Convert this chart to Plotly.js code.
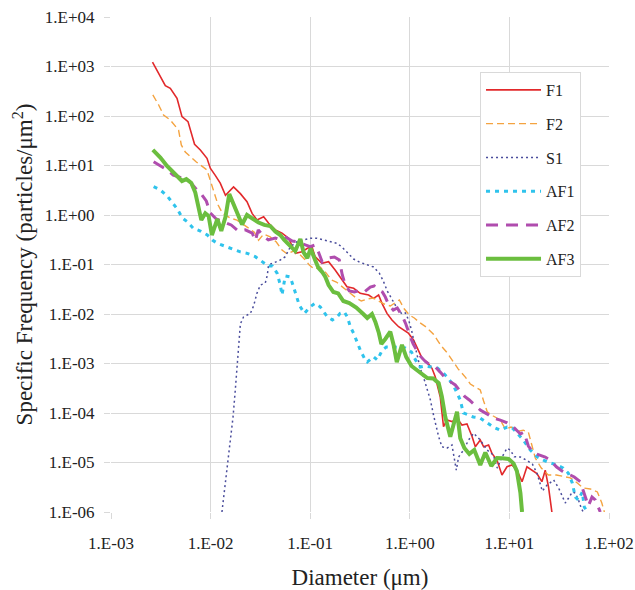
<!DOCTYPE html>
<html>
<head>
<meta charset="utf-8">
<script src="https://cdn.plot.ly/plotly-3.0.1.min.js"></script>
<style>html,body{margin:0;padding:0;background:#fff;}#chart{width:635px;height:590px;}</style>
</head>
<body>
<div id="chart"></div>
<script>
// Tick positions and labels
const xTickVals = [1e-3, 1e-2, 1e-1, 1e0, 1e1, 1e2];
const xTickText = ["1.E-03", "1.E-02", "1.E-01", "1.E+00", "1.E+01", "1.E+02"];
const yTickVals = [1e-6, 1e-5, 1e-4, 1e-3, 1e-2, 1e-1, 1e0, 1e1, 1e2, 1e3, 1e4];
const yTickText = ["1.E-06", "1.E-05", "1.E-04", "1.E-03", "1.E-02", "1.E-01", "1.E+00", "1.E+01", "1.E+02", "1.E+03", "1.E+04"];

// Series names
const seriesNames = ["F1", "F2", "S1", "AF1", "AF2", "AF3"];

// F1
const f1X = [2.61e-3,3.51e-3,3.94e-3,4.6e-3,5.16e-3,5.93e-3,6.9e-3,7.89e-3,9.2e-3,9.93e-3,
  1.11e-2,1.25e-2,1.41e-2,1.70e-2,1.99e-2,2.32e-2,2.61e-2,2.92e-2,3.41e-2,3.83e-2,
  4.47e-2,5.21e-2,6.07e-2,7.1e-2,8.28e-2,9.29e-2,0.104,0.112,0.131,0.153,
  0.178,0.208,0.234,0.273,0.318,0.386,0.433,0.486,0.526,0.59,
  0.662,0.772,0.861,0.966,1.09,1.18,1.33,1.49,1.67,1.80,
  2.02,2.18,2.36,2.65,2.98,3.34,3.75,4.21,4.55,5.1,
  5.51,6.18,6.68,7.5,8.42,9.46,10.6,11.9,13.4,15.0,
  16.8,18.9,21.2,22.9,24.7,26.7];
const f1Y = [1220,409,363,228,97,77,26.8,20.6,14,8.8,
  6.4,4.4,2.5,3.7,2.7,1.86,1.08,0.79,0.92,0.68,
  0.50,0.43,0.34,0.168,0.18,0.21,0.23,0.144,0.106,0.114,
  0.0775,0.0486,0.0356,0.033,0.0262,0.0242,0.0207,0.0242,0.0164,0.0103,
  0.00757,0.00553,0.00475,0.00413,0.00298,0.00218,0.00127,0.00107,8.0e-4,5.4e-4,
  2.13e-4,5.3e-5,7.2e-5,6.7e-5,7.8e-5,5.7e-5,6.0e-5,3.4e-5,2.08e-5,2.85e-5,
  2.08e-5,2.26e-5,1.53e-5,1.12e-5,5.6e-6,8.2e-6,8.9e-6,7.0e-6,4.1e-6,8.2e-6,
  7.0e-6,6.0e-6,4.1e-6,7.0e-6,3.2e-6,1e-6];

// F2
const f2X = [2.63e-3,3.01e-3,3.37e-3,3.94e-3,4.77e-3,5.08e-3,5.57e-3,7.19e-3,9.2e-3,9.93e-3,
  1.07e-2,1.19e-2,1.31e-2,1.58e-2,1.84e-2,2.14e-2,2.44e-2,2.75e-2,3.03e-2,3.41e-2,
  3.97e-2,4.57e-2,5.21e-2,5.89e-2,6.81e-2,7.76e-2,8.73e-2,9.79e-2,0.110,0.126,
  0.145,0.163,0.183,0.205,0.230,0.259,0.290,0.326,0.374,0.430,
  0.483,0.555,0.637,0.715,0.785,0.881,0.989,1.11,1.27,1.46,
  1.72,1.89,2.07,2.38,2.67,3.07,3.61,4.05,4.55,5.1,
  5.51,6.0,6.89,8.1,9.1,10.4,12.3,13.8,15.5,16.9,
  18.2,20.9,24.6,29.6,34.8,40.9,48.1,55.2,64.9,76.4,
  84.7,89.8];
const f2Y = [266,167,105,83,52,26,18.7,11.8,8.1,5.1,
  3.2,1.59,1.10,0.86,0.79,0.63,0.52,0.45,0.31,0.41,
  0.36,0.285,0.196,0.163,0.187,0.163,0.129,0.098,0.081,0.089,
  0.067,0.0486,0.0443,0.0368,0.0305,0.0242,0.021,0.0183,0.0201,0.021,
  0.0183,0.0159,0.0145,0.0167,0.0192,0.0126,0.00955,0.0083,0.0066,0.00546,
  0.00394,0.00298,0.00226,0.00163,0.00118,7.7e-4,5.3e-4,3.85e-4,3.35e-4,2.92e-4,
  1.75e-4,1.05e-4,8.7e-5,7.2e-5,4.75e-5,5.2e-5,4.3e-5,4.5e-5,4.1e-5,2.15e-5,
  1.23e-5,7.7e-6,5.6e-6,5.6e-6,5.2e-6,4.9e-6,3.85e-6,3.05e-6,2.92e-6,2.54e-6,
  1.52e-6,1e-6];

// S1
const s1X = [1.30e-2,1.41e-2,1.48e-2,1.58e-2,1.68e-2,1.77e-2,1.84e-2,1.91e-2,1.99e-2,2.14e-2,
  2.51e-2,2.70e-2,2.92e-2,3.16e-2,3.54e-2,3.71e-2,3.82e-2,4.26e-2,5.01e-2,5.62e-2,
  6.31e-2,7.36e-2,8.59e-2,0.100,0.117,0.136,0.159,0.186,0.208,0.236,
  0.273,0.318,0.374,0.433,0.494,0.542,0.594,0.662,0.743,0.835,
  0.902,0.973,1.04,1.11,1.19,1.27,1.40,1.61,1.73,1.95,
  2.10,2.36,2.65,2.86,2.93,3.09,3.47,3.89,4.37,5.1,
  5.96,6.89,7.56,8.43,9.46,10.2,11.2,12.9,14.8,17.0,
  18.9,20.4,21.4,23.9,27.8,31.2,34.0,36.4,39.3,42.8,
  45.8,49.4,52.6,55.1];
const s1Y = [1e-6,3.85e-6,9.8e-6,2.48e-5,8.3e-5,2.92e-4,8.5e-4,2.6e-3,6.3e-3,8.7e-3,
  1.03e-2,1.45e-2,2.62e-2,3.85e-2,4.23e-2,6.1e-2,9.8e-2,0.107,0.123,0.144,
  0.226,0.289,0.313,0.338,0.338,0.313,0.289,0.268,0.226,0.171,
  0.129,0.110,0.098,0.089,0.067,0.0464,0.0292,0.0201,0.0132,0.0100,
  0.0105,0.00757,0.00475,0.0026,0.00142,8.1e-4,4.64e-4,1.83e-4,9.1e-5,3.3e-5,
  2.08e-5,1.94e-5,2.26e-5,9.8e-6,7.0e-6,1.29e-5,1.79e-5,2.85e-5,3.9e-5,2.85e-5,
  1.79e-5,1.42e-5,7.7e-6,1.29e-5,1.94e-5,1.79e-5,1.31e-5,1.29e-5,1.12e-5,9.3e-6,
  6.1e-6,3.68e-6,2.65e-6,3.51e-6,4.43e-6,3.05e-6,2.01e-6,1.52e-6,1.92e-6,2.54e-6,
  2.42e-6,1.75e-6,1.2e-6,1e-6];

// AF1
const af1X = [2.68e-3,3.13e-3,3.67e-3,4.12e-3,4.63e-3,5.2e-3,5.83e-3,6.7e-3,7.89e-3,9.27e-3,
  1.04e-2,1.17e-2,1.41e-2,1.65e-2,1.99e-2,2.33e-2,2.81e-2,3.3e-2,3.8e-2,4.17e-2,
  4.65e-2,5.01e-2,5.21e-2,5.62e-2,6.31e-2,6.81e-2,7.36e-2,7.76e-2,8.73e-2,0.100,
  0.112,0.126,0.149,0.167,0.187,0.2,0.22,0.236,0.253,0.273,
  0.318,0.357,0.374,0.433,0.472,0.530,0.581,0.715,0.902,1.04,
  1.14,1.27,1.43,1.64,1.89,2.12,2.38,2.73,3.0,3.21,
  3.45,3.87,4.34,5.1,6.0,6.89,8.1,9.5,10.7,12.0,
  13.8,16.2,19.1,21.9,25.7,30.3,34.8,39.0,42.8,45.9,
  49.2,53.9,56.5,60.5];
const af1Y = [3.73,3.2,2.42,1.83,1.32,0.87,0.73,0.54,0.475,0.394,
  0.313,0.268,0.229,0.206,0.18,0.168,0.144,0.114,0.093,0.093,
  0.067,0.0385,0.0242,0.0586,0.0559,0.0351,0.021,0.0152,0.0103,0.014,
  0.0164,0.014,0.0087,0.0076,0.0088,0.0103,0.011,0.0087,0.00553,0.00407,
  0.00187,0.00118,0.00107,0.00137,0.00118,0.00187,0.00215,0.00215,0.00206,0.0017,
  0.00118,8.5e-4,8.9e-4,8.5e-4,8.1e-4,6.7e-4,5.3e-4,3.68e-4,2.54e-4,1.83e-4,
  1.0e-4,9.1e-5,8.3e-5,7.9e-5,6.3e-5,5.2e-5,4.5e-5,5.2e-5,5.0e-5,3.95e-5,
  2.85e-5,1.79e-5,1.29e-5,1.12e-5,9.8e-6,8.9e-6,7.7e-6,6.1e-6,3.85e-6,2.0e-6,
  1.75e-6,2.54e-6,1.26e-6,1e-6];

// AF2
const af2X = [2.68e-3,3.13e-3,3.67e-3,4.22e-3,5.2e-3,5.97e-3,7.02e-3,8.06e-3,9.05e-3,9.93e-3,
  1.14e-2,1.37e-2,1.61e-2,1.9e-2,2.23e-2,2.62e-2,2.81e-2,3.01e-2,3.38e-2,3.8e-2,
  4.46e-2,5.13e-2,5.75e-2,6.61e-2,7.6e-2,8.93e-2,0.100,0.112,0.121,0.132,
  0.152,0.175,0.196,0.210,0.225,0.247,0.277,0.311,0.349,0.401,
  0.44,0.483,0.53,0.568,0.608,0.683,0.749,0.841,0.912,0.989,
  1.08,1.27,1.43,1.61,1.80,2.02,2.27,2.55,2.86,3.14,
  3.53,3.96,4.55,5.1,6.0,6.89,8.1,9.5,11.2,12.9,
  14.0,15.5,17.4,20.4,22.9,25.7,29.6,34.0,39.0,44.8,
  51.5,56.5,62.0,67.5,72.8,81.8];
const af2Y = [11.9,9.8,8.1,6.4,5.6,5.1,3.51,2.66,1.92,1.10,
  0.83,0.72,0.63,0.475,0.50,0.43,0.30,0.50,0.377,0.313,
  0.343,0.313,0.351,0.298,0.285,0.248,0.229,0.248,0.179,0.112,
  0.135,0.142,0.123,0.0614,0.0385,0.0292,0.0278,0.0298,0.0278,0.0351,
  0.0368,0.0305,0.0278,0.022,0.0159,0.012,0.0132,0.0091,0.00628,0.00394,
  0.00248,0.00142,0.0011,9.3e-4,8.6e-4,6.7e-4,5.1e-4,4.3e-4,3.68e-4,2.92e-4,
  2.2e-4,1.83e-4,1.38e-4,1.15e-4,9.5e-5,7.9e-5,7.2e-5,6.3e-5,5.0e-5,3.77e-5,
  4.1e-5,2.15e-5,1.56e-5,1.42e-5,1.29e-5,1.12e-5,8.2e-6,6.7e-6,5.9e-6,5.1e-6,
  4.1e-6,2.42e-6,1.32e-6,2.0e-6,1.75e-6,1e-6];

// AF3
const af3X = [2.63e-3,3.13e-3,3.65e-3,4.25e-3,5.16e-3,5.7e-3,6.4e-3,7.02e-3,7.58e-3,8.07e-3,
  8.85e-3,9.55e-3,1.03e-2,1.17e-2,1.28e-2,1.41e-2,1.54e-2,1.70e-2,1.91e-2,2.07e-2,
  2.32e-2,2.68e-2,3.03e-2,3.46e-2,3.97e-2,4.46e-2,5.01e-2,5.49e-2,6.03e-2,6.61e-2,
  7.08e-2,7.96e-2,8.59e-2,9.35e-2,0.101,0.112,0.121,0.132,0.142,0.153,
  0.171,0.191,0.215,0.247,0.290,0.341,0.374,0.417,0.451,0.489,
  0.518,0.568,0.637,0.688,0.74,0.835,0.922,1.04,1.18,1.34,
  1.50,1.72,1.95,2.10,2.27,2.55,2.75,2.98,3.21,3.53,
  3.96,4.44,5.1,5.73,6.58,7.51,8.49,9.8,11.0,11.9,
  12.9,13.4];
const af3Y = [20.6,14.5,9.8,7.2,4.86,5.3,4.43,2.85,1.52,0.79,
  1.08,0.955,0.394,0.83,0.475,0.91,2.66,1.67,0.87,0.643,
  1.0,0.81,0.705,0.63,0.60,0.464,0.394,0.313,0.26,0.216,
  0.187,0.327,0.175,0.135,0.21,0.123,0.085,0.0705,0.0559,0.0385,
  0.0278,0.026,0.0183,0.0167,0.0135,0.01,0.0083,0.01,0.00689,0.00413,
  0.00248,0.00313,0.00439,0.00237,0.00107,0.00237,0.00135,8.9e-4,7.2e-4,5.9e-4,
  5.1e-4,5.0e-4,4.0e-4,2.13e-4,8.4e-5,3.3e-5,6.2e-5,1.06e-4,3.1e-5,1.96e-5,
  1.49e-5,1.79e-5,8.9e-6,1.59e-5,8.5e-6,1.23e-5,1.22e-5,1.18e-5,9.6e-6,6.7e-6,
  2.42e-6,1e-6];

const styles = [
  {color: "#E2292B", width: 1.6, dash: "solid"},
  {color: "#F4A340", width: 1.4, dash: "7px,4px"},
  {color: "#4A4D9C", width: 1.5, dash: "2px,3px"},
  {color: "#2FC3EC", width: 3, dash: "4px,5px"},
  {color: "#B04DAE", width: 3, dash: "12px,8px"},
  {color: "#6BBE3F", width: 4, dash: "solid"}
];
const xs = [f1X, f2X, s1X, af1X, af2X, af3X];
const ys = [f1Y, f2Y, s1Y, af1Y, af2Y, af3Y];

const traces = seriesNames.map((name, i) => ({
  type: "scatter",
  mode: "lines",
  name: name,
  legendgroup: "g" + i,
  x: xs[i],
  y: ys[i],
  line: {color: styles[i].color, width: styles[i].width, dash: styles[i].dash},
  hoverinfo: "x+y+name"
}));

const serif = "Liberation Serif, Times New Roman, Times, serif";
const gridColor = "#d9d9d9";
const textColor = "#222222";

const layout = {
  width: 635,
  height: 590,
  margin: {l: 111, r: 26, t: 17, b: 78},
  paper_bgcolor: "#ffffff",
  plot_bgcolor: "#ffffff",
  font: {family: serif, size: 16, color: textColor},
  showlegend: true,
  legend: {
    x: 0.741, y: 0.889, xanchor: "left", yanchor: "top",
    bgcolor: "#ffffff", bordercolor: "#d9d9d9", borderwidth: 1,
    font: {family: serif, size: 16, color: textColor},
    tracegroupgap: 10,
    itemwidth: 55
  },
  xaxis: {
    type: "log",
    range: [-3, 2],
    tickmode: "array",
    tickvals: xTickVals,
    ticktext: xTickText,
    showgrid: true,
    gridcolor: gridColor,
    gridwidth: 1,
    ticks: "outside",
    ticklen: 6,
    tickcolor: gridColor,
    zeroline: false,
    showline: false,
    ticklabelstandoff: 10,
    tickfont: {family: serif, size: 17, color: textColor},
    title: {text: "Diameter (μm)", font: {family: serif, size: 23, color: textColor}, standoff: 16}
  },
  yaxis: {
    type: "log",
    range: [-6, 4],
    tickmode: "array",
    tickvals: yTickVals,
    ticktext: yTickText,
    showgrid: true,
    gridcolor: gridColor,
    gridwidth: 1,
    ticks: "outside",
    ticklen: 6,
    tickcolor: gridColor,
    zeroline: false,
    showline: false,
    ticklabelstandoff: 6,
    tickfont: {family: serif, size: 17, color: textColor},
    title: {text: "Specific Frequency (particles/μm<sup>2</sup>)", font: {family: serif, size: 23, color: textColor}, standoff: 5}
  }
};

Plotly.newPlot("chart", traces, layout, {displayModeBar: false});
</script>
</body>
</html>
